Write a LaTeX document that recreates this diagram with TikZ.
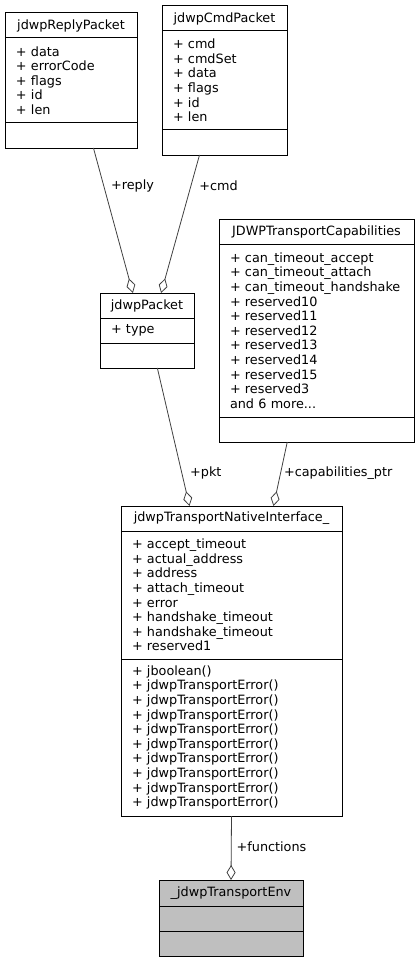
\documentclass[tikz,border=0pt]{standalone}
\usepackage{fontspec}
\setmainfont{DejaVu Sans}
\usetikzlibrary{arrows.meta,calc}
\definecolor{edgegray}{HTML}{404040}
\definecolor{envgray}{HTML}{BFBFBF}

\begin{document}
\begin{tikzpicture}[x=1pt,y=-1pt,
  font=\fontsize{12.8pt}{14.6pt}\selectfont,
  part/.style={draw=black, line width=1pt, anchor=north west, inner xsep=0pt, inner ysep=0pt, outer sep=0pt},
  head/.style={part, align=center},
  body/.style={part, align=left, execute at begin node={\leftskip=11pt}},
  agg/.style={draw=edgegray, line width=.8pt, -{Diamond[open,length=15pt,width=9pt]}},
  lbl/.style={anchor=west, inner sep=1pt}]
\useasboundingbox (0,0) rectangle (419,963);

% jdwpReplyPacket
\node[head, text width=132pt, minimum height=25pt] (reply-t) at (5,13) {jdwpReplyPacket};
\node[body, text width=132pt, minimum height=85pt] (reply-a) at (reply-t.south west)
  {+~data\\+~errorCode\\+~flags\\+~id\\+~len};
\node[body, text width=132pt, minimum height=25pt] (reply-m) at (reply-a.south west) {};

% jdwpCmdPacket
\node[head, text width=125pt, minimum height=25pt] (cmd-t) at (162,6) {jdwpCmdPacket};
\node[body, text width=125pt, minimum height=99pt] (cmd-a) at (cmd-t.south west)
  {+~cmd\\+~cmdSet\\+~data\\+~flags\\+~id\\+~len};
\node[body, text width=125pt, minimum height=25pt] (cmd-m) at (cmd-a.south west) {};

% jdwpPacket
\node[head, text width=94pt, minimum height=25pt] (packet-t) at (100,293) {jdwpPacket};
\node[body, text width=94pt, minimum height=25pt] (packet-a) at (packet-t.south west) {+~type};
\node[body, text width=94pt, minimum height=25pt] (packet-m) at (packet-a.south west) {};

% JDWPTransportCapabilities
\node[head, text width=195pt, minimum height=25pt] (caps-t) at (219,219) {JDWPTransportCapabilities};
\node[body, text width=195pt, minimum height=173pt] (caps-a) at (caps-t.south west)
  {+~can\_timeout\_accept\\+~can\_timeout\_attach\\+~can\_timeout\_handshake\\
   +~reserved10\\+~reserved11\\+~reserved12\\+~reserved13\\+~reserved14\\
   +~reserved15\\+~reserved3\\and~6~more...};
\node[body, text width=195pt, minimum height=25pt] (caps-m) at (caps-a.south west) {};

% jdwpTransportNativeInterface_
\node[head, text width=221pt, minimum height=25pt] (native-t) at (121,506) {jdwpTransportNativeInterface\_};
\node[body, text width=221pt, minimum height=128pt] (native-a) at (native-t.south west)
  {+~accept\_timeout\\+~actual\_address\\+~address\\+~attach\_timeout\\+~error\\
   +~handshake\_timeout\\+~handshake\_timeout\\+~reserved1};
\node[body, text width=221pt, minimum height=157pt] (native-m) at (native-a.south west)
  {+~jboolean()\\+~jdwpTransportError()\\+~jdwpTransportError()\\+~jdwpTransportError()\\
   +~jdwpTransportError()\\+~jdwpTransportError()\\+~jdwpTransportError()\\
   +~jdwpTransportError()\\+~jdwpTransportError()\\+~jdwpTransportError()};

% _jdwpTransportEnv
\node[head, fill=envgray, text width=144pt, minimum height=26pt] (env-t) at (159,880) {\_jdwpTransportEnv};
\node[body, fill=envgray, text width=144pt, minimum height=25pt] (env-a) at (env-t.south west) {};
\node[body, fill=envgray, text width=144pt, minimum height=25pt] (env-m) at (env-a.south west) {};

% aggregations
\draw[agg] ($(reply-m.south west)!.67!(reply-m.south east)$)
  -- node[lbl, pos=.26, xshift=6pt] {+reply} ($(packet-t.north west)!.35!(packet-t.north east)$);
\draw[agg] ($(cmd-m.south west)!.30!(cmd-m.south east)$)
  -- node[lbl, pos=.22, xshift=7pt] {+cmd} ($(packet-t.north west)!.65!(packet-t.north east)$);
\draw[agg] ($(packet-m.south west)!.61!(packet-m.south east)$)
  -- node[lbl, pos=.76, xshift=7pt] {+pkt} ($(native-t.north west)!.31!(native-t.north east)$);
\draw[agg] ($(caps-m.south west)!.35!(caps-m.south east)$)
  -- node[lbl, pos=.48, xshift=2pt] {+capabilities\_ptr} ($(native-t.north west)!.69!(native-t.north east)$);
\draw[agg] (native-m.south) -- node[lbl, pos=.48, xshift=4pt] {+functions} (env-t.north);
\end{tikzpicture}
\end{document}
